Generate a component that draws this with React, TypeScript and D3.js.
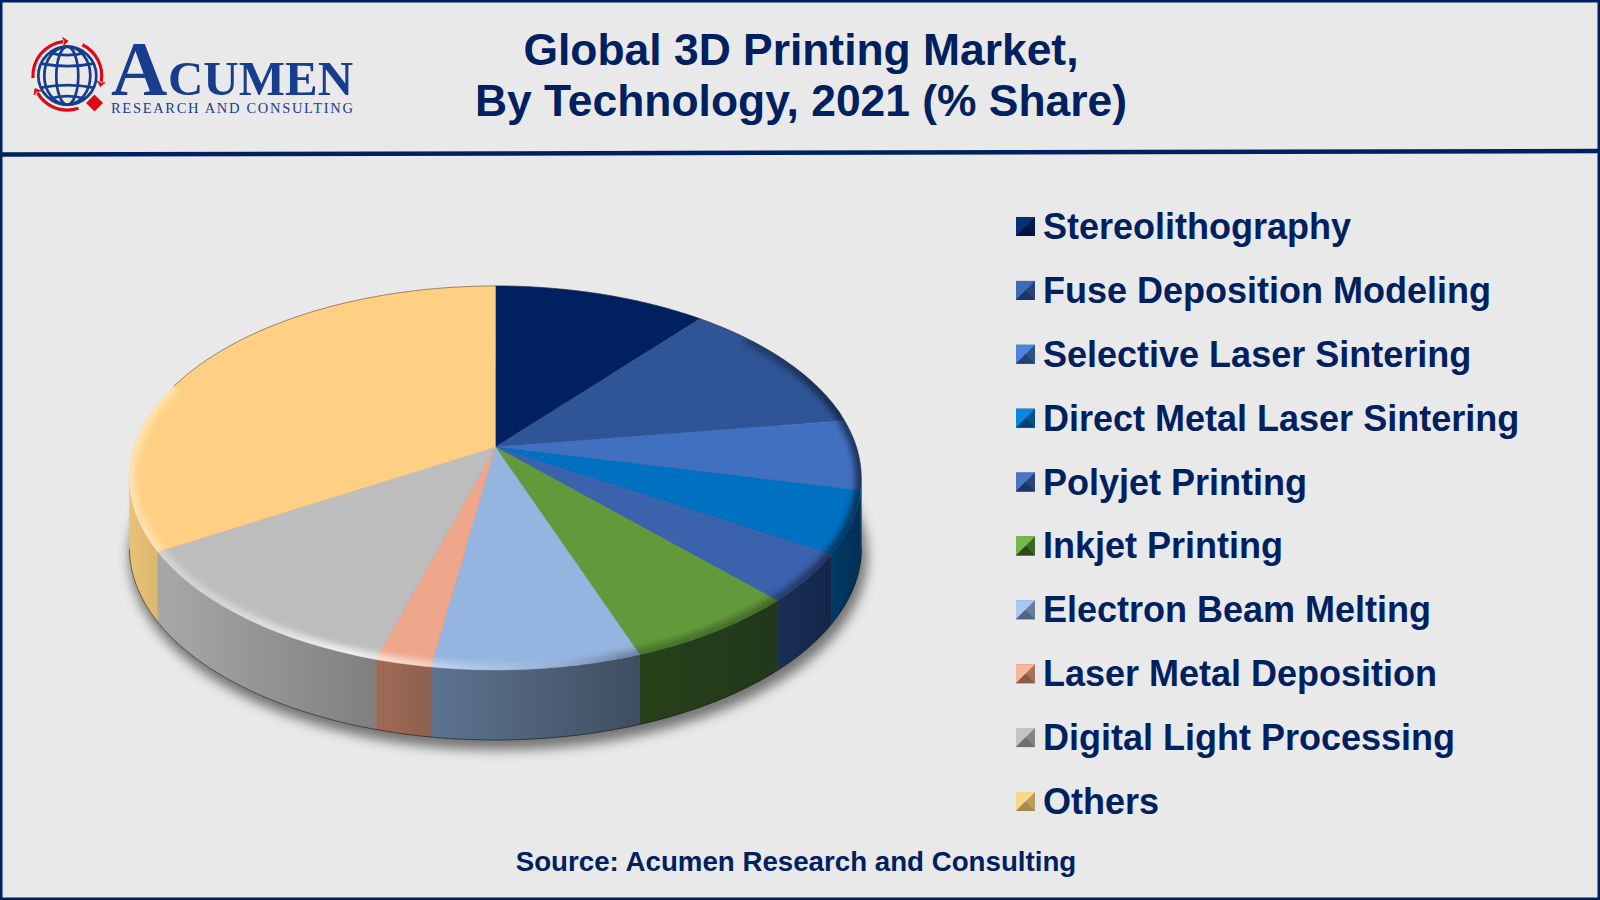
import { useEffect, useRef } from "react";
import * as d3 from "d3";

const categories = [
  "Stereolithography",
  "Fuse Deposition Modeling",
  "Selective Laser Sintering",
  "Direct Metal Laser Sintering",
  "Polyjet Printing",
  "Inkjet Printing",
  "Electron Beam Melting",
  "Laser Metal Deposition",
  "Digital Light Processing",
  "Others",
];
const shares = [11, 11.7, 5.9, 5.2, 4.1, 6.6, 7.9, 2.1, 11.9, 33.6];

const topColors = ["#00205f", "#2f5597", "#4270c0", "#0070c0", "#3a62ad", "#629a3b", "#95b5e0", "#efa78b", "#bdbdbd", "#ffd083"];
const wallLeft = ["#001540", "#1f3a68", "#2d4b85", "#003a66", "#1a2f55", "#27411a", "#5d7490", "#a06a55", "#a8a8a8", "#e8c278"];
const wallRight = ["#001030", "#1a3058", "#1e3560", "#002f55", "#14264a", "#21381a", "#3f4e60", "#8f604f", "#7f7f7f", "#dcb76f"];
const markerLight = ["#0a2f7a", "#3f6ab5", "#4f82dc", "#0a86dc", "#4a74c4", "#78b84a", "#a8c8f0", "#f7b79c", "#c4c4c4", "#f7d88a"];
const markerDark = ["#00143c", "#1f3560", "#24406f", "#00406e", "#1f3560", "#2a4a1c", "#4f6580", "#8a5b49", "#6e6e6e", "#a58a50"];

const NAVY = "#00205f";
const LOGO_BLUE = "#173d8c";
const LOGO_RED = "#dc0a14";
const FONT = "'Liberation Sans', Arial, sans-serif";

// the rim is a true circle seen in perspective, so the pie centre sits above the ellipse centre
const pieX = 495.4;
const pieY = 447;
const scaleU = 361.2;
const scaleV = 187;
const persp = 0.1614;
const depth = 70;
const ellipseCy = 478;
const ellipseRx = 366;
const ellipseRy = 192;
const wallFrom = (99.5 * Math.PI) / 180;
const wallTo = (260.5 * Math.PI) / 180;

function project(angle: number): [number, number] {
  const u = Math.sin(angle);
  const v = -Math.cos(angle);
  const w = 1 - persp * v;
  return [pieX + (scaleU * u) / w, pieY + (scaleV * v) / w];
}

function rimAngles(a0: number, a1: number) {
  const n = Math.max(2, Math.ceil((a1 - a0) / 0.01));
  return d3.range(n + 1).map(i => a0 + ((a1 - a0) * i) / n);
}

export default function App() {
  const svgRef = useRef<SVGSVGElement>(null);

  useEffect(() => {
    if (!svgRef.current) return;
    const svg = d3.select(svgRef.current);
    svg.selectAll("*").remove();

    const defs = svg.append("defs");
    const blur = (id: string, s: number) =>
      defs
        .append("filter")
        .attr("id", id)
        .attr("x", "-20%")
        .attr("y", "-20%")
        .attr("width", "140%")
        .attr("height", "140%")
        .append("feGaussianBlur")
        .attr("stdDeviation", s);
    blur("shadowBlur", 6);
    blur("rimBlur", 3);
    defs
      .append("clipPath")
      .attr("id", "topClip")
      .append("ellipse")
      .attr("cx", pieX)
      .attr("cy", ellipseCy)
      .attr("rx", ellipseRx)
      .attr("ry", ellipseRy);

    const rimGrad = defs
      .append("linearGradient")
      .attr("id", "rimGrad")
      .attr("gradientUnits", "userSpaceOnUse")
      .attr("x1", 130)
      .attr("x2", 862)
      .attr("y1", 0)
      .attr("y2", 0);
    [
      [0, "#fff", 0.4],
      [0.1, "#fff", 0.35],
      [0.3, "#fff", 0.8],
      [0.4, "#fff", 0.5],
      [0.52, "#fff", 0.15],
      [0.68, "#000", 0.25],
      [0.85, "#000", 0.3],
      [1, "#000", 0.55],
    ].forEach(([o, c, a]) => {
      rimGrad.append("stop").attr("offset", o as number).attr("stop-color", c as string).attr("stop-opacity", a as number);
    });

    svg.append("rect").attr("width", 1600).attr("height", 900).attr("fill", "#e9e9e9");

    // pie
    const pie = d3.pie<number>().sort(null).value(d => d);
    const slices = pie(shares);
    const line = d3.line();

    const bottomRim = rimAngles(wallFrom, wallTo).map(a => {
      const [x, y] = project(a);
      return [x, y + depth] as [number, number];
    });

    svg
      .append("ellipse")
      .attr("cx", pieX + 3)
      .attr("cy", ellipseCy + depth + 8)
      .attr("rx", ellipseRx + 3)
      .attr("ry", ellipseRy + 2)
      .attr("fill", "#444")
      .attr("opacity", 0.7)
      .attr("filter", "url(#shadowBlur)");

    const walls = svg.append("g");
    slices.forEach((s, i) => {
      const a0 = Math.max(s.startAngle, wallFrom);
      const a1 = Math.min(s.endAngle, wallTo);
      if (a1 <= a0) return;
      const top = rimAngles(a0, a1).map(project);
      const bottom = top.map(([x, y]) => [x, y + depth] as [number, number]).reverse();
      const id = `wall${i}`;
      const g = defs
        .append("linearGradient")
        .attr("id", id)
        .attr("gradientUnits", "userSpaceOnUse")
        .attr("x1", d3.min(top, p => p[0])!)
        .attr("x2", d3.max(top, p => p[0])!)
        .attr("y1", 0)
        .attr("y2", 0);
      g.append("stop").attr("offset", 0).attr("stop-color", wallLeft[i]);
      g.append("stop").attr("offset", 1).attr("stop-color", wallRight[i]);
      walls
        .append("path")
        .attr("d", line([...top, ...bottom]) + "Z")
        .attr("fill", `url(#${id})`)
        .attr("stroke", `url(#${id})`)
        .attr("stroke-width", 0.4);
    });

    svg
      .append("path")
      .attr("d", line(bottomRim))
      .attr("fill", "none")
      .attr("stroke", "#111")
      .attr("stroke-opacity", 0.55)
      .attr("stroke-width", 1);

    const faces = svg.append("g");
    slices.forEach((s, i) => {
      const rim = rimAngles(s.startAngle, s.endAngle).map(project);
      faces
        .append("path")
        .attr("d", line([[pieX, pieY], ...rim]) + "Z")
        .attr("fill", topColors[i])
        .attr("stroke", topColors[i])
        .attr("stroke-width", 0.4);
    });

    // bevel along the front of the rim, dark edge along the back
    const bevel = svg.append("g").attr("clip-path", "url(#topClip)");
    bevel
      .append("path")
      .attr("d", line(rimAngles((50 * Math.PI) / 180, (290 * Math.PI) / 180).map(project)))
      .attr("fill", "none")
      .attr("stroke", "url(#rimGrad)")
      .attr("stroke-width", 12)
      .attr("filter", "url(#rimBlur)");
    svg
      .append("path")
      .attr("d", line(rimAngles((-70 * Math.PI) / 180, (80 * Math.PI) / 180).map(project)))
      .attr("fill", "none")
      .attr("stroke", "#222")
      .attr("stroke-opacity", 0.45)
      .attr("stroke-width", 1);

    // frame
    const frame = svg.append("g").attr("fill", "#002060");
    frame.append("rect").attr("width", 1600).attr("height", 2.5);
    frame.append("rect").attr("width", 2.5).attr("height", 900);
    frame.append("rect").attr("x", 1597.5).attr("width", 2.5).attr("height", 900);
    frame.append("rect").attr("y", 897.5).attr("width", 1600).attr("height", 2.5);
    svg
      .append("line")
      .attr("x1", 0)
      .attr("y1", 154.5)
      .attr("x2", 1600)
      .attr("y2", 151)
      .attr("stroke", "#002060")
      .attr("stroke-width", 4.5);

    // title
    const title = svg
      .append("g")
      .attr("font-family", FONT)
      .attr("font-weight", 700)
      .attr("fill", NAVY)
      .attr("text-anchor", "middle");
    title.append("text").attr("x", 801).attr("y", 64.5).attr("font-size", 44.4).text("Global 3D Printing Market,");
    title.append("text").attr("x", 801).attr("y", 115.5).attr("font-size", 44.4).text("By Technology, 2021 (% Share)");
    title.append("text").attr("x", 796).attr("y", 871).attr("font-size", 27.7).text("Source: Acumen Research and Consulting");

    // legend
    const legendY = d3.scalePoint<string>().domain(categories).range([226.5, 801.5]);
    const m = 9.5;
    const legend = svg
      .append("g")
      .selectAll("g")
      .data(categories)
      .enter()
      .append("g")
      .attr("transform", d => `translate(1025.5,${legendY(d)})`);
    legend
      .append("rect")
      .attr("x", -m)
      .attr("y", -m)
      .attr("width", 2 * m)
      .attr("height", 2 * m)
      .attr("fill", (_, i) => d3.interpolateRgb(markerLight[i], markerDark[i])(0.75));
    legend
      .append("path")
      .attr("d", `M${-m},${-m}L${m},${-m}L0,0L${-m},${m}Z`)
      .attr("fill", (_, i) => markerLight[i]);
    legend
      .append("path")
      .attr("d", `M${-m},${m}L${m},${m}L0,0Z`)
      .attr("fill", (_, i) => markerDark[i]);
    legend
      .append("text")
      .attr("x", 17.5)
      .attr("y", -0.5)
      .attr("dy", "0.36em")
      .attr("font-family", FONT)
      .attr("font-weight", 700)
      .attr("font-size", 36)
      .attr("fill", NAVY)
      .text(d => d);

    // logo
    const logo = svg.append("g");
    const globe = logo
      .append("g")
      .attr("transform", "translate(67.3,75.7)")
      .attr("fill", "none")
      .attr("stroke", LOGO_BLUE)
      .attr("stroke-width", 2.7);
    globe.append("circle").attr("r", 29);
    globe.append("ellipse").attr("rx", 11).attr("ry", 29);
    globe.append("ellipse").attr("rx", 23).attr("ry", 29);
    ["M-26,-12Q0,-7 26,-12", "M-26,12Q0,7 26,12", "M-18,-23Q0,-18 18,-23", "M-18,23Q0,18 18,23"].forEach(d =>
      globe.append("path").attr("d", d)
    );
    const redArcs = logo.append("g").attr("transform", "translate(67.3,75.7)").attr("fill", LOGO_RED);
    const ring = d3.arc<{ startAngle: number; endAngle: number }>().innerRadius(32.8).outerRadius(36);
    const arcDeg = [
      [-94, -7],
      [26, 100],
      [161, 240],
    ];
    arcDeg.forEach(([a0, a1]) => {
      const start = (a0 * Math.PI) / 180;
      const end = (a1 * Math.PI) / 180;
      redArcs.append("path").attr("d", ring({ startAngle: start, endAngle: end }));
      const tipX = 34.4 * Math.sin(end);
      const tipY = -34.4 * Math.cos(end);
      redArcs
        .append("path")
        .attr("transform", `translate(${tipX},${tipY}) rotate(${a1})`)
        .attr("d", "M0,-4L5,0L0,4L1.5,0Z")
        .attr("stroke", LOGO_RED)
        .attr("stroke-width", 0.8);
    });
    logo
      .append("path")
      .attr("d", "M94.5,94.5L103,103L94.5,111.5L86,103Z")
      .attr("fill", LOGO_RED);
    const logoText = logo.append("g").attr("font-family", "'Liberation Serif', serif").attr("fill", LOGO_BLUE);
    logoText.append("text").attr("x", 111).attr("y", 95).attr("font-size", 78).attr("font-weight", 700).text("A");
    logoText
      .append("text")
      .attr("x", 168)
      .attr("y", 95)
      .attr("font-size", 49)
      .attr("font-weight", 700)
      .attr("textLength", 185)
      .attr("lengthAdjust", "spacingAndGlyphs")
      .text("CUMEN");
    logoText
      .append("text")
      .attr("x", 111)
      .attr("y", 112.7)
      .attr("font-size", 14.5)
      .attr("textLength", 242)
      .text("RESEARCH AND CONSULTING");
  }, []);

  return (
    <div style={{ position: "absolute", left: 0, top: 0 }}>
      <svg ref={svgRef} width={1600} height={900} style={{ display: "block" }}></svg>
    </div>
  );
}
